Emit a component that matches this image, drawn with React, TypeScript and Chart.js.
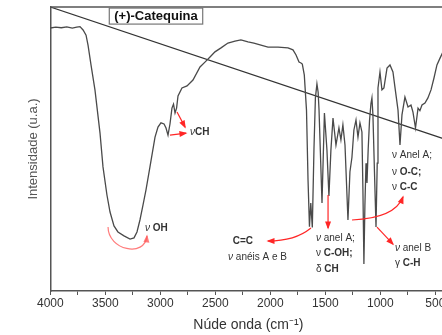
import React, { useEffect, useRef } from "react";
import { Chart, registerables } from "chart.js";

Chart.register(...registerables);

const FAMILY = "'Liberation Sans', Arial, Helvetica, sans-serif";

// ---------- data ----------
const wavenumbers = [
  4000, 3950, 3900, 3850, 3800, 3760, 3730, 3702, 3675, 3657,
  3630, 3594, 3548, 3521, 3485, 3457, 3421, 3385, 3330, 3275,
  3239, 3212, 3185, 3157, 3130, 3094, 3048, 3021, 2994, 2966,
  2948, 2930, 2912, 2894, 2880, 2866, 2852, 2839, 2803, 2757,
  2703, 2639, 2594, 2548, 2503, 2448, 2385, 2321, 2267, 2203,
  2149, 2085, 2021, 1930, 1839, 1794, 1766, 1739, 1721, 1709,
  1691, 1671, 1657, 1644, 1632, 1618, 1603, 1590, 1576, 1565,
  1557, 1530, 1508, 1485, 1467, 1449, 1430, 1403, 1376, 1358,
  1340, 1321, 1294, 1276, 1258, 1240, 1221, 1203, 1185, 1167,
  1158, 1149, 1140, 1130, 1121, 1110, 1098, 1085, 1076, 1067,
  1053, 1039, 1028, 1021, 1003, 985, 967, 939, 912, 885,
  866, 839, 821, 803, 776, 748, 721, 703, 680, 657,
  640, 621, 594, 567, 539, 512, 485, 457, 430, 403,
];

const intensity = [
  92.6, 92.9, 92.7, 93.0, 92.6, 92.9, 93.1, 91.9, 90.1, 86.6,
  79.6, 70.8, 55.6, 43.7, 33.8, 27.8, 22.9, 20.8, 19.4, 18.3,
  18.7, 20.8, 25.0, 30.3, 35.6, 43.7, 54.2, 57.7, 59.2, 58.8,
  57.4, 54.9, 58.8, 64.4, 65.8, 62.7, 64.4, 68.7, 71.5, 72.2,
  74.3, 78.9, 80.6, 82.4, 84.2, 85.6, 87.3, 88.0, 88.4, 87.7,
  87.3, 86.6, 85.9, 85.9, 85.6, 84.9, 83.1, 80.6, 80.3, 79.9,
  76.1, 63.7, 39.1, 22.6, 31.0, 22.4, 50.0, 68.0, 72.9, 70.0,
  63.7, 31.0, 62.7, 49.6, 33.5, 49.6, 60.9, 51.4, 57.4, 53.2,
  58.5, 51.4, 25.0, 42.0, 47.0, 56.7, 60.2, 54.2, 59.2, 56.0,
  35.6, 9.5, 30.0, 45.0, 38.0, 50.0, 60.0, 66.0, 68.0, 62.0,
  42.0, 22.5, 45.0, 71.5, 77.1, 70.8, 71.5, 78.5, 79.6, 77.1,
  71.5, 63.7, 51.4, 62.0, 68.3, 64.8, 65.5, 63.0, 57.4, 64.4,
  63.5, 65.5, 66.2, 68.0, 70.8, 75.0, 79.6, 82.0, 84.2, 85.6,
];

const baselineWavenumbers = [4000, 400];
const baselineIntensity = [100, 53.3];

const majorTicks = [4000, 3500, 3000, 2500, 2000, 1500, 1000, 500];
const minorTicks = [3750, 3250, 2750, 2250, 1750, 1250, 750];

const chartTitle = "(+)-Catequina";
const xTitle = "Núde onda (cm⁻¹)";
const yTitle = "Intensidade (u.a.)";

// ---------- annotations (in data coordinates) ----------
type Seg = [string, "n" | "b" | "i"];
const textNotes: { at: [number, number]; align: "left" | "center"; segs: Seg[] }[] = [
  { at: [2730, 56.0], align: "left", segs: [["ν", "i"], ["CH", "b"]] },
  { at: [3140, 22.2], align: "left", segs: [["ν ", "i"], ["OH", "b"]] },
  { at: [2249, 17.6], align: "center", segs: [["C=C", "b"]] },
  { at: [2116, 12.0], align: "center", segs: [["ν ", "i"], ["anéis A e B", "n"]] },
  { at: [1585, 18.7], align: "left", segs: [["ν ", "i"], ["anel A;", "n"]] },
  { at: [1585, 13.4], align: "left", segs: [["ν ", "n"], ["C-OH;", "b"]] },
  { at: [1585, 7.7], align: "left", segs: [["δ ", "n"], ["CH", "b"]] },
  { at: [894, 47.9], align: "left", segs: [["ν ", "n"], ["Anel A;", "n"]] },
  { at: [894, 41.9], align: "left", segs: [["ν ", "n"], ["O-C;", "b"]] },
  { at: [894, 36.6], align: "left", segs: [["ν ", "n"], ["C-C", "b"]] },
  { at: [867, 15.1], align: "left", segs: [["ν ", "i"], ["anel B", "n"]] },
  { at: [867, 9.9], align: "left", segs: [["γ ", "n"], ["C-H", "b"]] },
];

const RED = "#ff2626";
const arrowNotes: { pts: [number, number][]; color: string }[] = [
  { pts: [[2848, 63.0], [2775, 57.7]], color: RED },
  { pts: [[2912, 54.9], [2767, 55.6]], color: RED },
  { pts: [[3475, 22.5], [3475, 14.4], [3139, 11.6], [3121, 19.4]], color: "rgba(255,90,90,0.8)" },
  { pts: [[1630, 22.2], [1775, 17.6], [2021, 17.6]], color: RED },
  { pts: [[1475, 33.8], [1475, 22.2]], color: RED },
  { pts: [[1257, 25.0], [867, 25.7], [794, 33.1]], color: RED },
  { pts: [[1030, 22.5], [885, 16.5]], color: RED },
];

const titleAt: [number, number] = [3030, 96.8];

const AXIS_COLOR = "#555";
const TEXT_COLOR = "#333";

function segFont(kind: string, size: number) {
  const style = kind === "i" ? "italic " : "";
  const weight = kind === "b" ? "bold " : "";
  return `${style}${weight}${size}px ${FAMILY}`;
}

function drawRich(ctx: CanvasRenderingContext2D, segs: Seg[], x: number, y: number, size: number, align: string) {
  const widths = segs.map(([t, k]) => {
    ctx.font = segFont(k, size);
    return ctx.measureText(t).width;
  });
  const total = widths.reduce((a, b) => a + b, 0);
  let cx = align === "center" ? x - total / 2 : x;
  ctx.textBaseline = "middle";
  ctx.textAlign = "left";
  segs.forEach(([t, k], i) => {
    ctx.font = segFont(k, size);
    ctx.fillText(t, cx, y);
    cx += widths[i];
  });
}

function drawArrow(ctx: CanvasRenderingContext2D, p: { x: number; y: number }[], color: string) {
  ctx.strokeStyle = color;
  ctx.fillStyle = color;
  ctx.lineWidth = 1.2;
  ctx.beginPath();
  ctx.moveTo(p[0].x, p[0].y);
  if (p.length === 2) ctx.lineTo(p[1].x, p[1].y);
  else if (p.length === 3) ctx.quadraticCurveTo(p[1].x, p[1].y, p[2].x, p[2].y);
  else ctx.bezierCurveTo(p[1].x, p[1].y, p[2].x, p[2].y, p[3].x, p[3].y);
  ctx.stroke();
  const e = p[p.length - 1];
  const prev = p[p.length - 2];
  const ang = Math.atan2(e.y - prev.y, e.x - prev.x);
  const L = 6.5;
  const W = 3;
  const c = Math.cos(ang);
  const s = Math.sin(ang);
  ctx.beginPath();
  ctx.moveTo(e.x + c * 1.5, e.y + s * 1.5);
  ctx.lineTo(e.x - L * c + W * s, e.y - L * s - W * c);
  ctx.lineTo(e.x - L * c - W * s, e.y - L * s + W * c);
  ctx.closePath();
  ctx.fill();
}

const annotationPlugin = {
  id: "spectrumAnnotations",
  afterDraw(chart: any) {
    const { ctx, chartArea, scales } = chart;
    const X = (v: number) => scales.x.getPixelForValue(v);
    const Y = (v: number) => scales.y.getPixelForValue(v);
    ctx.save();
    // top frame line
    ctx.strokeStyle = AXIS_COLOR;
    ctx.lineWidth = 1.5;
    ctx.beginPath();
    ctx.moveTo(chartArea.left, chartArea.top);
    ctx.lineTo(chart.width, chartArea.top);
    ctx.stroke();

    arrowNotes.forEach((a) => {
      drawArrow(ctx, a.pts.map(([w, v]) => ({ x: X(w), y: Y(v) })), a.color);
    });

    textNotes.forEach((n) => {
      ctx.fillStyle = TEXT_COLOR;
      drawRich(ctx, n.segs, X(n.at[0]), Y(n.at[1]), 10, n.align);
    });

    // title box
    ctx.font = `bold 13px ${FAMILY}`;
    const tw = ctx.measureText(chartTitle).width;
    const cx = X(titleAt[0]);
    const cy = Y(titleAt[1]);
    ctx.fillStyle = "#fff";
    ctx.fillRect(cx - tw / 2 - 6, cy - 8, tw + 10, 16);
    ctx.strokeStyle = "#777";
    ctx.lineWidth = 1.2;
    ctx.strokeRect(cx - tw / 2 - 6, cy - 8, tw + 10, 16);
    ctx.fillStyle = "#111";
    ctx.textAlign = "center";
    ctx.textBaseline = "middle";
    ctx.fillText(chartTitle, cx - 1, cy + 0.5);
    ctx.restore();
  },
};

const CANVAS_W = 470;
const CANVAS_H = 335;

export default function App() {
  const ref = useRef<HTMLCanvasElement | null>(null);

  useEffect(() => {
    if (!ref.current) return;
    const spectrum = wavenumbers.map((w, i) => ({ x: w, y: intensity[i] }));
    const baseline = baselineWavenumbers.map((w, i) => ({ x: w, y: baselineIntensity[i] }));
    const allTicks = [...majorTicks, ...minorTicks].sort((a, b) => a - b);

    const chart = new Chart(ref.current, {
      type: "line",
      data: {
        datasets: [
          {
            label: "(+)-Catequina",
            data: spectrum,
            borderColor: "#4a4a4a",
            borderWidth: 1.3,
            pointRadius: 0,
            tension: 0,
            fill: false,
          },
          {
            label: "linha",
            data: baseline,
            borderColor: "#333",
            borderWidth: 1.2,
            pointRadius: 0,
            tension: 0,
            fill: false,
          },
        ],
      },
      options: {
        animation: false,
        responsive: false,
        devicePixelRatio: 1,
        events: [],
        layout: { padding: { top: 7, left: 0, right: CANVAS_W - 446.3, bottom: 0 } },
        plugins: {
          legend: { display: false },
          tooltip: { enabled: false },
          title: { display: false },
        },
        scales: {
          x: {
            type: "linear",
            reverse: true,
            min: 400,
            max: 4000,
            afterBuildTicks: (axis: any) => {
              axis.ticks = allTicks.map((v) => ({ value: v }));
            },
            afterFit: (axis: any) => {
              axis.height = 44;
            },
            ticks: {
              autoSkip: false,
              maxRotation: 0,
              padding: 1,
              color: TEXT_COLOR,
              font: { family: FAMILY, size: 12 },
              callback: (v: any) => (majorTicks.includes(Number(v)) ? String(v) : ""),
            },
            grid: {
              display: true,
              drawOnChartArea: false,
              drawTicks: true,
              tickLength: 4,
              color: AXIS_COLOR,
              lineWidth: 1,
            },
            border: { display: true, color: AXIS_COLOR, width: 1.5 },
            title: {
              display: true,
              text: xTitle,
              color: TEXT_COLOR,
              font: { family: FAMILY, size: 14 },
              padding: { top: 0, bottom: 1.6 },
            },
          },
          y: {
            type: "linear",
            min: 0,
            max: 100,
            afterFit: (axis: any) => {
              axis.width = 50.3;
            },
            ticks: { display: false },
            grid: { display: false, drawTicks: false },
            border: { display: true, color: AXIS_COLOR, width: 1.5 },
            title: {
              display: true,
              text: yTitle,
              color: "#555",
              font: { family: FAMILY, size: 13 },
              padding: { top: 26, bottom: 0 },
            },
          },
        },
      },
      plugins: [annotationPlugin],
    } as any);

    return () => chart.destroy();
  }, []);

  return (
    <div
      style={{
        position: "fixed",
        left: 0,
        top: 0,
        width: 442,
        height: 335,
        overflow: "hidden",
        background: "#fff",
      }}
    >
      <canvas ref={ref} width={CANVAS_W} height={CANVAS_H} style={{ width: CANVAS_W, height: CANVAS_H, display: "block" }} />
    </div>
  );
}
